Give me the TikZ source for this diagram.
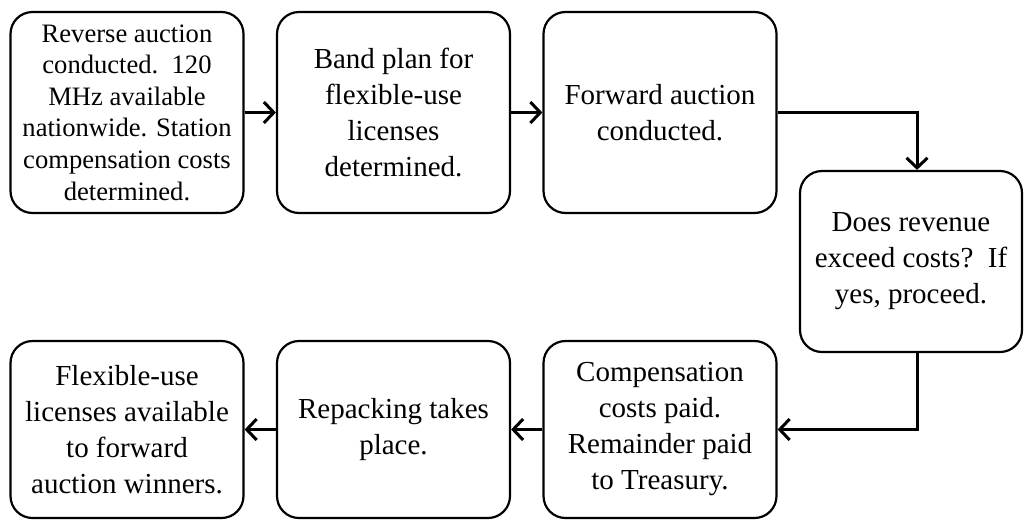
\documentclass[tikz,border=0pt]{standalone}
\usepackage{fontspec}
\setmainfont{Liberation Serif}
\usetikzlibrary{arrows.meta, positioning}

\begin{document}
\begin{tikzpicture}[x=1pt,y=-1pt,line width=2.2pt,
  block/.style={draw, rounded corners=22pt, minimum width=233pt, minimum height=201pt,
    align=center, inner sep=0pt, font=\fontsize{29}{36}\selectfont},
  flow/.style={line width=3pt, -{Straight Barb[length=10pt,width=21pt]}}]

\useasboundingbox (0,0) rectangle (1024,520);

\node[block, font=\fontsize{26.6}{31.6}\selectfont] (block1) at (127,112.5)
  {Reverse auction\\conducted.\ \ 120\\MHz available\\nationwide. Station\\compensation costs\\determined.};
\node[block] (block2) at (393.5,112.5) {Band plan for\\flexible-use\\licenses\\determined.};
\node[block] (block3) at (660,112.5) {Forward auction\\conducted.};
\node[block, minimum width=222pt, minimum height=181pt] (block4) at (911,261.5)
  {Does revenue\\exceed costs?\ \ If\\yes, proceed.};
\node[block, minimum height=177pt] (block5) at (660,429.5)
  {Compensation\\costs paid.\\Remainder paid\\to Treasury.};
\node[block, minimum height=177pt] (block6) at (393.5,429.5) {Repacking takes\\place.};
\node[block, minimum height=177pt] (block7) at (127,429.5)
  {Flexible-use\\licenses available\\to forward\\auction winners.};

\draw[flow] (block1) -- (block2);
\draw[flow] (block2) -- (block3);
\draw[flow] (block3.east) -| ([xshift=6pt]block4.north);
\draw[flow] ([xshift=6pt]block4.south) |- (block5.east);
\draw[flow] (block5) -- (block6);
\draw[flow] (block6) -- (block7);

\end{tikzpicture}
\end{document}
